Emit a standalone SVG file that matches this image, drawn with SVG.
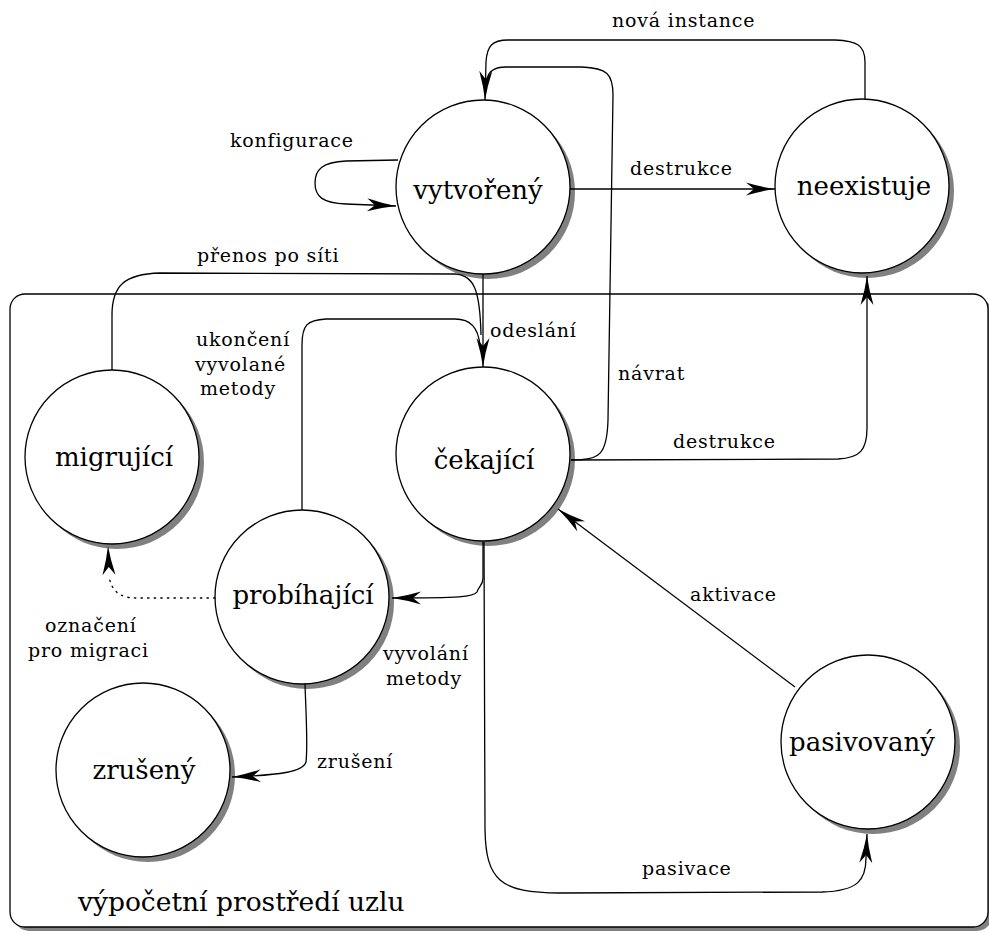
<svg xmlns="http://www.w3.org/2000/svg" width="989" height="933" viewBox="0 0 989 933">
  <defs>
    <marker id="arr" markerUnits="userSpaceOnUse" markerWidth="40" markerHeight="20" viewBox="-32 -10 34 20" refX="0" refY="0" orient="auto" overflow="visible">
      <path d="M0,0 Q-14,-2 -29,-6.5 L-21,0 L-29,6.5 Q-14,2 0,0 Z" fill="#000" stroke="none"/>
    </marker>
  </defs>
  <style>
    .shadow { fill: #808080; stroke: none; }
    .node { fill: #fff; stroke: #000; stroke-width: 1.3; }
    .edge { fill: none; stroke: #000; stroke-width: 1.3; }
    .arrow { marker-end: url(#arr); }
    .dotted { stroke-dasharray: 1.4 5.2; stroke-linecap: round; }
    text { font-family: "DejaVu Serif", serif; fill: #000; }
    .nlabel { font-size: 26px; text-anchor: middle; }
    .elabel { font-size: 19px; letter-spacing: 0.8px; }
    .title { font-size: 26.5px; }
  </style>
  <rect width="989" height="933" fill="#fff"/>

  <!-- node environment frame -->
  <g id="environment">
    <rect x="14" y="298" width="978" height="633" rx="15" class="shadow"/>
    <rect x="10" y="294" width="978" height="633" rx="15" class="node"/>
    <text x="78" y="911" class="title">výpočetní prostředí uzlu</text>
  </g>

  <!-- states -->
  <g id="vytvoreny">
    <circle cx="488" cy="192" r="87" class="shadow"/>
    <circle cx="483" cy="187" r="87" class="node"/>
    <text x="478" y="199" class="nlabel">vytvořený</text>
  </g>
  <g id="neexistuje">
    <circle cx="867" cy="191" r="87" class="shadow"/>
    <circle cx="862" cy="186" r="87" class="node"/>
    <text x="864" y="195" class="nlabel">neexistuje</text>
  </g>
  <g id="cekajici">
    <circle cx="488" cy="459" r="87" class="shadow"/>
    <circle cx="483" cy="454" r="87" class="node"/>
    <text x="484" y="469" class="nlabel">čekající</text>
  </g>
  <g id="migrujici">
    <circle cx="117" cy="462" r="87" class="shadow"/>
    <circle cx="112" cy="457" r="87" class="node"/>
    <text x="114" y="466" class="nlabel">migrující</text>
  </g>
  <g id="probihajici">
    <circle cx="307" cy="602" r="87" class="shadow"/>
    <circle cx="302" cy="597" r="87" class="node"/>
    <text x="303" y="604" class="nlabel">probíhající</text>
  </g>
  <g id="zruseny">
    <circle cx="148" cy="775" r="87" class="shadow"/>
    <circle cx="143" cy="770" r="87" class="node"/>
    <text x="144" y="779" class="nlabel">zrušený</text>
  </g>
  <g id="pasivovany">
    <circle cx="873" cy="747" r="87" class="shadow"/>
    <circle cx="868" cy="742" r="87" class="node"/>
    <text x="862" y="751" class="nlabel">pasivovaný</text>
  </g>

  <!-- transitions -->
  <g id="connectors">
    <!-- nová instance -->
    <path class="edge arrow" d="M865,99 V62 C865,45 857,41 835,40 H508 C492,40 487,46 486,62 L485,100"/>
    <!-- návrat -->
    <path class="edge" d="M571,460 C600,460 607,455 608,420 L613,95 C613,74 607,68 582,67 H506 C493,67 488,72 487,80"/>
    <!-- konfigurace (self loop) -->
    <path class="edge arrow" d="M398,160 L346,161 C322,162 315,170 315,183 C315,197 323,203 346,204 L396,206"/>
    <!-- destrukce (vytvořený → neexistuje) -->
    <path class="edge arrow" d="M570,189 H775"/>
    <!-- odeslání -->
    <path class="edge arrow" d="M483,274 V367"/>
    <!-- přenos po síti -->
    <path class="edge" d="M112,370 V315 C112,286 124,274 160,273 L455,274 C474,275 480,290 481,335"/>
    <!-- ukončení vyvolané metody -->
    <path class="edge" d="M302,510 V345 C302,325 307,320 326,319 L455,319 C471,319 478,328 480,345"/>
    <!-- destrukce (čekající → neexistuje) -->
    <path class="edge arrow" d="M571,460 L838,459 C860,458 867,450 867,428 L867,276"/>
    <!-- vyvolání metody -->
    <path class="edge arrow" d="M483,542 L483,578 C483,586 478,587 477,592 C474,597 460,598 392,598"/>
    <!-- pasivace -->
    <path class="edge arrow" d="M484,542 L485,830 C486,880 500,893 560,893 L822,892 C858,891 866,880 866,858 L867,834"/>
    <!-- aktivace -->
    <path class="edge arrow" d="M795,687 L558,509"/>
    <!-- označení pro migraci -->
    <path class="edge dotted" d="M215,598 L136,598 C119,598 111,590 109,576"/>
    <path class="edge arrow" d="M109,575 L108,546" style="stroke:none"/>
    <!-- zrušení -->
    <path class="edge arrow" d="M305,684 C306,715 308,745 306,762 C303,772 280,775 232,777"/>
  </g>

  <!-- transition labels -->
  <g id="labels">
    <text x="612" y="27" class="elabel">nová instance</text>
    <text x="230" y="147" class="elabel">konfigurace</text>
    <text x="630" y="175" class="elabel">destrukce</text>
    <text x="197" y="262" class="elabel">přenos po síti</text>
    <text x="196" y="346" class="elabel">ukončení</text>
    <text x="195" y="371" class="elabel">vyvolané</text>
    <text x="200" y="395" class="elabel">metody</text>
    <text x="490" y="337" class="elabel">odeslání</text>
    <text x="618" y="380" class="elabel">návrat</text>
    <text x="673" y="448" class="elabel">destrukce</text>
    <text x="690" y="601" class="elabel">aktivace</text>
    <text x="45" y="632" class="elabel">označení</text>
    <text x="28" y="657" class="elabel">pro migraci</text>
    <text x="383" y="660" class="elabel">vyvolání</text>
    <text x="386" y="685" class="elabel">metody</text>
    <text x="317" y="768" class="elabel">zrušení</text>
    <text x="642" y="875" class="elabel">pasivace</text>
  </g>
</svg>
